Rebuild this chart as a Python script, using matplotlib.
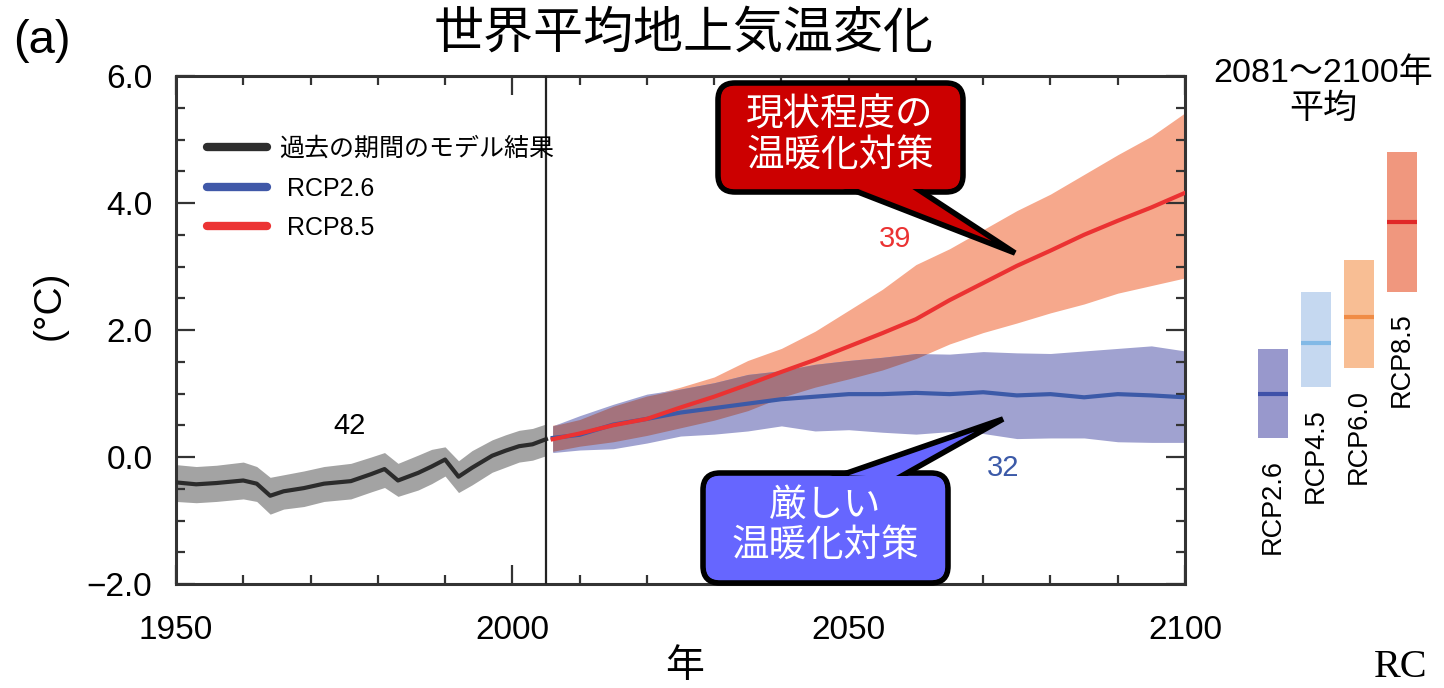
import numpy as np
import matplotlib
matplotlib.use("Agg")
from matplotlib import pyplot as plt
from matplotlib import transforms
from matplotlib.lines import Line2D
from matplotlib.patches import FancyBboxPatch, Polygon
from matplotlib.ticker import MultipleLocator

plt.rcParams['font.family'] = ['Liberation Sans', 'Noto Sans CJK JP']

# model history, 1950-2005
hist_years = [1950, 1953, 1956, 1960, 1962, 1964, 1966, 1969, 1972, 1976, 1979, 1981,
              1983, 1986, 1988, 1990, 1992, 1994, 1997, 1999, 2001, 2003, 2005]
hist_mean = [-0.40, -0.43, -0.41, -0.37, -0.42, -0.61, -0.54, -0.49, -0.42, -0.38, -0.27, -0.19,
             -0.37, -0.25, -0.15, -0.04, -0.31, -0.17, 0.02, 0.10, 0.17, 0.20, 0.28]
hist_lo = [-0.70, -0.72, -0.70, -0.66, -0.70, -0.90, -0.82, -0.78, -0.70, -0.66, -0.55, -0.48,
           -0.62, -0.52, -0.42, -0.30, -0.56, -0.44, -0.24, -0.16, -0.08, -0.05, 0.02]
hist_hi = [-0.12, -0.15, -0.13, -0.08, -0.15, -0.32, -0.28, -0.22, -0.15, -0.10, 0.00, 0.07,
           -0.10, 0.03, 0.12, 0.16, -0.06, 0.10, 0.27, 0.35, 0.42, 0.45, 0.52]

# projections, 2006-2100
rcp_years = [2006, 2010, 2015, 2020, 2025, 2030, 2035, 2040, 2045, 2050,
             2055, 2060, 2065, 2070, 2075, 2080, 2085, 2090, 2095, 2100]
r85_mean = [0.28, 0.37, 0.50, 0.60, 0.78, 0.95, 1.14, 1.34, 1.53, 1.74,
            1.95, 2.17, 2.47, 2.74, 3.01, 3.25, 3.50, 3.72, 3.93, 4.16]
r85_hi = [0.50, 0.59, 0.80, 0.96, 1.10, 1.26, 1.52, 1.71, 1.98, 2.31,
          2.64, 3.03, 3.28, 3.58, 3.88, 4.14, 4.45, 4.76, 5.05, 5.42]
r85_lo = [0.09, 0.17, 0.24, 0.34, 0.46, 0.58, 0.73, 0.94, 1.10, 1.23,
          1.37, 1.55, 1.78, 1.96, 2.11, 2.27, 2.41, 2.58, 2.70, 2.82]
r26_mean = [0.30, 0.35, 0.51, 0.60, 0.70, 0.77, 0.84, 0.91, 0.95, 0.99,
            0.99, 1.01, 0.99, 1.02, 0.97, 0.99, 0.94, 0.99, 0.97, 0.94]
r26_hi = [0.49, 0.65, 0.83, 0.99, 1.07, 1.17, 1.30, 1.36, 1.46, 1.52,
          1.57, 1.63, 1.62, 1.66, 1.64, 1.63, 1.67, 1.71, 1.75, 1.67]
r26_lo = [0.07, 0.11, 0.13, 0.22, 0.33, 0.36, 0.41, 0.49, 0.41, 0.43,
          0.39, 0.36, 0.40, 0.37, 0.29, 0.30, 0.30, 0.24, 0.23, 0.23]

# 2081-2100 averages
scen_names = ['RCP2.6', 'RCP4.5', 'RCP6.0', 'RCP8.5']
scen_mean = [1.0, 1.8, 2.2, 3.7]
scen_lo = [0.3, 1.1, 1.4, 2.6]
scen_hi = [1.7, 2.6, 3.1, 4.8]
scen_box_colors = ['#9898cc', '#c5d8f0', '#f8be94', '#f0977e']
scen_line_colors = ['#3f51a8', '#82b9e6', '#f08c46', '#e02828']

model_counts = {'hist': 42, 'rcp85': 39, 'rcp26': 32}

W, H = 1444, 688
fig = plt.figure(figsize=(W / 100, H / 100), dpi=100)
# helper: pixel coords with origin at top-left
pix = transforms.Affine2D().scale(1 / W, -1 / H).translate(0, 1) + fig.transFigure


def px_rect(l, t, r, b):
    return [l / W, 1 - b / H, (r - l) / W, (b - t) / H]


ax = fig.add_axes(px_rect(176, 76, 1185, 584))

ax.fill_between(hist_years, hist_lo, hist_hi, color='#a3a3a3', lw=0, zorder=1)
ax.fill_between(rcp_years, r85_lo, r85_hi, color='#f6a88c', lw=0, zorder=1)
ax.fill_between(rcp_years, r26_lo, r26_hi, color='#a0a2d0', lw=0, zorder=1)
ov_lo = np.maximum(r85_lo, r26_lo)
ov_hi = np.minimum(r85_hi, r26_hi)
ax.fill_between(rcp_years, ov_lo, ov_hi, where=ov_hi > ov_lo, interpolate=True,
                color='#a4737d', lw=0, zorder=2)

ax.plot(hist_years, hist_mean, color='#2b2b2b', lw=3, zorder=3)
ax.plot(rcp_years, r26_mean, color='#3c5aa8', lw=3, zorder=3)
ax.plot(rcp_years, r85_mean, color='#eb3232', lw=3, zorder=4)
ax.axvline(2005, color='#222222', lw=1.6, zorder=5)

ax.set_xlim(1950, 2100)
ax.set_ylim(-2, 6)
ax.set_xticks([1950, 2000, 2050, 2100])
ax.xaxis.set_minor_locator(MultipleLocator(10))
ax.set_yticks([-2, 0, 2, 4, 6])
ax.set_yticklabels(['\u22122.0', '0.0', '2.0', '4.0', '6.0'])
ax.yaxis.set_minor_locator(MultipleLocator(0.5))
ax.tick_params(which='both', direction='in', top=True, right=True, width=1.6, color='#333333')
ax.tick_params(which='major', length=14, labelsize=24)
ax.tick_params(axis='x', which='major', pad=22)
ax.tick_params(axis='y', which='major', pad=17)
ax.tick_params(which='minor', length=6.5)
for s in ax.spines.values():
    s.set_linewidth(2.2)
    s.set_color('#333333')

ax.text(1975.8, 0.49, str(model_counts['hist']), fontsize=21, color='black', ha='center', va='center')
ax.text(2056.9, 3.43, str(model_counts['rcp85']), fontsize=21, color='#eb3232', ha='center', va='center')
ax.text(2073.0, -0.17, str(model_counts['rcp26']), fontsize=21, color='#3c5aa8', ha='center', va='center')

handles = [Line2D([], [], color='#2e2e2e', lw=6, solid_capstyle='round'),
           Line2D([], [], color='#4058a8', lw=6, solid_capstyle='round'),
           Line2D([], [], color='#ec3434', lw=6, solid_capstyle='round')]
ax.legend(handles, ['過去の期間のモデル結果', ' RCP2.6', ' RCP8.5'], loc='upper left',
          bbox_to_anchor=((207 - 176) / 1009, (584 - 137) / 508), frameon=False, fontsize=18,
          handlelength=2.4, handletextpad=0.5, labelspacing=0.62, borderpad=0, borderaxespad=0)


def callout(box, base, tip, fc, text, text_xy):
    l, t, r, b = box
    outer = FancyBboxPatch((l, t), r - l, b - t, boxstyle='round,pad=0,rounding_size=17',
                           transform=pix, fc=fc, ec='black', lw=4, zorder=20, clip_on=False)
    tip = np.array(tip, float)
    pts = []
    for p in base:
        p = np.array(p, float)
        d = (p - tip) / np.linalg.norm(p - tip)
        pts.append(p + d * 14)
    tail = Polygon([pts[0], tip, pts[1]], closed=True, transform=pix, fc=fc, ec='black',
                   lw=4, joinstyle='miter', zorder=21, clip_on=False)
    inner = FancyBboxPatch((l + 3, t + 3), r - l - 6, b - t - 6,
                           boxstyle='round,pad=0,rounding_size=14',
                           transform=pix, fc=fc, ec='none', lw=0, zorder=22, clip_on=False)
    for p in (outer, tail, inner):
        fig.add_artist(p)
    fig.text(text_xy[0] / W, 1 - text_xy[1] / H, text, color='white', fontsize=27,
             ha='center', va='center', linespacing=1.15, zorder=23)


callout((718, 83, 963, 192), [(858, 192), (922, 192)], (1015, 253), '#cc0000',
        '現状程度の\n温暖化対策', (840, 136))
callout((703, 473, 948, 583), [(847, 473), (907, 473)], (1003, 419), '#6666ff',
        '厳しい\n温暖化対策', (825, 526))

# side panel
side = fig.add_axes(px_rect(1245, 76, 1430, 584))
side.set_xlim(-0.65, 3.65)
side.set_ylim(-2, 6)
side.axis('off')
xs = np.arange(len(scen_names))
side.bar(xs, np.array(scen_hi) - np.array(scen_lo), bottom=scen_lo, width=0.69,
         color=scen_box_colors, lw=0)
side.hlines(scen_mean, xs - 0.345, xs + 0.345, colors=scen_line_colors, lw=3)
for x, name, lo in zip(xs, scen_names, scen_lo):
    side.annotate(name, (x, lo), xytext=(0, -15), textcoords='offset points', rotation=90,
                  ha='center', va='top', fontsize=19.5)

fig.text(1323 / W, 1 - 91 / H, '2081～2100年\n平均', fontsize=24.5, ha='center', va='center',
         multialignment='center', linespacing=1.2)

fig.text(684 / W, 1 - 34 / H, '世界平均地上気温変化', fontsize=36, ha='center', va='center')
fig.text(13 / W, 1 - 41 / H, '(a)', fontsize=34, ha='left', va='center')
fig.text(50 / W, 1 - 305 / H, '(°C)', fontsize=28, rotation=90, ha='center', va='center')
fig.text(685 / W, 1 - 667 / H, '年', fontsize=28, ha='center', va='center')
fig.text(1374 / W, 1 - 686 / H, 'RC', fontsize=29, family='Liberation Serif', ha='left', va='bottom')

fig.savefig('out.png', dpi=100)
